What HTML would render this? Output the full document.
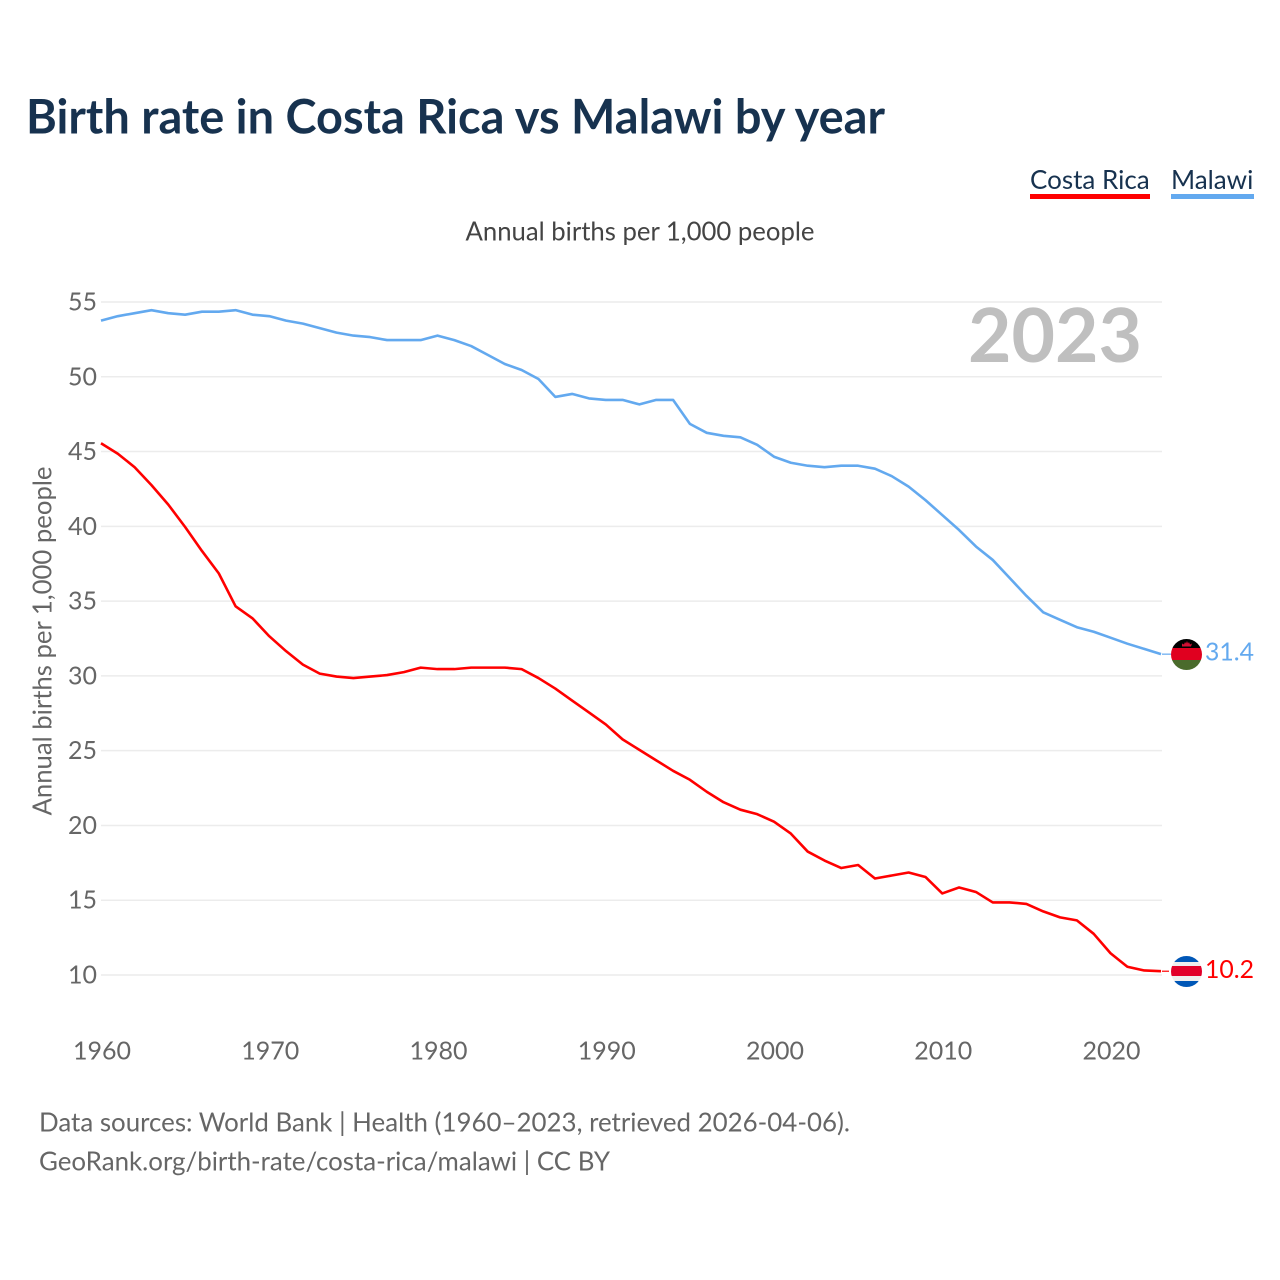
<!DOCTYPE html>
<html lang="en">
<head>
<meta charset="utf-8">
<title>Birth rate in Costa Rica vs Malawi by year</title>
<style>
html,body{margin:0;padding:0;background:#fff;}
svg{display:block;}
text{font-family:"Lato","Carlito","Liberation Sans",sans-serif;}
</style>
</head>
<body>
<svg id="chart" xmlns="http://www.w3.org/2000/svg" width="1280" height="1280" viewBox="0 0 1280 1280">
  <defs>
    <clipPath id="clip-mw"><circle cx="1186.5" cy="654.5" r="15.5"/></clipPath>
    <clipPath id="clip-cr"><circle cx="1186.5" cy="971.5" r="15.5"/></clipPath>
  </defs>
  <rect width="1280" height="1280" fill="#fff"/>

  <text x="26" y="133.5" font-size="47.5" font-weight="700" fill="#17324f" textLength="859" lengthAdjust="spacingAndGlyphs">Birth rate in Costa Rica vs Malawi by year</text>

  <g>
    <text x="1030" y="189" font-size="26" fill="#17324f">Costa Rica</text>
    <rect x="1030" y="194" width="120" height="5" fill="#ff0000"/>
  </g>
  <g>
    <text x="1171" y="189" font-size="26" fill="#17324f">Malawi</text>
    <rect x="1171" y="194" width="83" height="5" fill="#63a9ef"/>
  </g>

  <text x="465.5" y="240.5" font-size="26" fill="#444" textLength="349" lengthAdjust="spacingAndGlyphs">Annual births per 1,000 people</text>

  <g id="grid"></g>
  <g id="yticks"></g>
  <g id="xticks"></g>

  <text transform="translate(51.5,815.5) rotate(-90)" x="0" y="0" font-size="26" fill="#666" textLength="349" lengthAdjust="spacingAndGlyphs">Annual births per 1,000 people</text>

  <text x="1142" y="362" text-anchor="end" font-size="75" font-weight="700" fill="#bfbfbf">2023</text>

  <g id="series"></g>

  <g clip-path="url(#clip-mw)">
    <rect x="1170" y="638" width="33" height="10" fill="#000"/>
    <rect x="1170" y="648" width="33" height="12" fill="#e0001f"/>
    <rect x="1170" y="660" width="33" height="12" fill="#4a6b2c"/>
    <path d="M1182 646.5h9l1-3-2 1-1-2.500-1 1.500-1-2.500-1 2.500-1-1.500-1 2.500-2-1z" fill="#d21034"/>
  </g>
  <g clip-path="url(#clip-cr)">
    <rect x="1170" y="955" width="33" height="33" fill="#eeeeee"/>
    <rect x="1170" y="955" width="33" height="7" fill="#0057b7"/>
    <rect x="1170" y="966" width="33" height="10" fill="#e2002a"/>
    <rect x="1170" y="981" width="33" height="7" fill="#0057b7"/>
  </g>

  <text x="1254" y="660.5" text-anchor="end" font-size="24.8" fill="#63a9ef">31.4</text>
  <text x="1254" y="978" text-anchor="end" font-size="24.8" fill="#ff0000">10.2</text>

  <text x="39" y="1131.5" font-size="26" fill="#666" textLength="811" lengthAdjust="spacingAndGlyphs">Data sources: World Bank | Health (1960–2023, retrieved 2026-04-06).</text>
  <text x="39" y="1170.5" font-size="26" fill="#666" textLength="571" lengthAdjust="spacingAndGlyphs">GeoRank.org/birth-rate/costa-rica/malawi | CC BY</text>
</svg>
<script>
const firstYear = 1960;
const yTickValues = [55, 50, 45, 40, 35, 30, 25, 20, 15, 10];
const xTickValues = [1960, 1970, 1980, 1990, 2000, 2010, 2020];
const malawi = [53.8,54.1,54.3,54.5,54.3,54.2,54.4,54.4,54.5,54.2,54.1,53.8,53.6,53.3,53.0,52.8,52.7,52.5,52.5,52.5,52.8,52.5,52.1,51.5,50.9,50.5,49.9,48.7,48.9,48.6,48.5,48.5,48.2,48.5,48.5,46.9,46.3,46.1,46.0,45.5,44.7,44.3,44.1,44.0,44.1,44.1,43.9,43.4,42.7,41.8,40.8,39.8,38.7,37.8,36.6,35.4,34.3,33.8,33.3,33.0,32.6,32.2,31.85,31.5];
const costaRica = [45.6,44.9,44.0,42.8,41.5,40.0,38.4,36.9,34.7,33.9,32.7,31.7,30.8,30.2,30.0,29.9,30.0,30.1,30.3,30.6,30.5,30.5,30.6,30.6,30.6,30.5,29.9,29.2,28.4,27.6,26.8,25.8,25.1,24.4,23.7,23.1,22.3,21.6,21.1,20.8,20.3,19.5,18.3,17.7,17.2,17.4,16.5,16.7,16.9,16.6,15.5,15.9,15.6,14.9,14.9,14.8,14.3,13.9,13.7,12.8,11.5,10.6,10.35,10.3];

const NS = 'http://www.w3.org/2000/svg';
const plotLeft = 102, plotRight = 1162, lastYear = 2023;
const lineOffsetX = -1, lineOffsetY = 0.7;
function xScale(year) { return plotLeft + (year - firstYear) * (plotRight - plotLeft) / (lastYear - firstYear); }
function yScale(v) { return 302 + (55 - v) * (975 - 302) / 45; }
function make(tag, attrs, parent) {
  const el = document.createElementNS(NS, tag);
  for (const k in attrs) el.setAttribute(k, attrs[k]);
  parent.appendChild(el);
  return el;
}

const grid = document.getElementById('grid');
const yticks = document.getElementById('yticks');
const xticks = document.getElementById('xticks');
const series = document.getElementById('series');

yTickValues.forEach(function (v) {
  const line = make('line', { x1: plotLeft - 1, x2: plotRight, y1: yScale(v), y2: yScale(v), stroke: '#ececec', 'stroke-width': 1.5 }, grid);
  
  
  const label = make('text', { x: 97, y: yScale(v) + 8.5, 'text-anchor': 'end', 'font-size': 25, fill: '#666' }, yticks);
  
  
  label.textContent = String(v);
});

xTickValues.forEach(function (yr) {
  const label = make('text', { x: xScale(yr), y: 1059.5, 'text-anchor': 'middle', 'font-size': 25, fill: '#666' }, xticks);
  
  
  label.textContent = String(yr);
});

function points(values) {
  return values.map(function (v, i) { return (xScale(firstYear + i) + lineOffsetX).toFixed(2) + ',' + (yScale(v) + lineOffsetY).toFixed(2); }).join(' ');
}

const malawiLine = make('polyline', { points: points(malawi), fill: 'none', stroke: '#63a9ef', 'stroke-width': 2.6, 'stroke-linejoin': 'round' }, series);



const costaRicaLine = make('polyline', { points: points(costaRica), fill: 'none', stroke: '#ff0000', 'stroke-width': 2.6, 'stroke-linejoin': 'round' }, series);



const malawiLead = make('line', { x1: plotRight, x2: 1171, y1: yScale(malawi[malawi.length - 1]) + lineOffsetY, y2: yScale(malawi[malawi.length - 1]) + lineOffsetY, stroke: '#63a9ef', 'stroke-width': 1.2 }, series);



const costaRicaLead = make('line', { x1: plotRight, x2: 1169, y1: yScale(costaRica[costaRica.length - 1]) + lineOffsetY, y2: yScale(costaRica[costaRica.length - 1]) + lineOffsetY, stroke: '#ff0000', 'stroke-width': 1.2 }, series);


</script>
</body>
</html>
